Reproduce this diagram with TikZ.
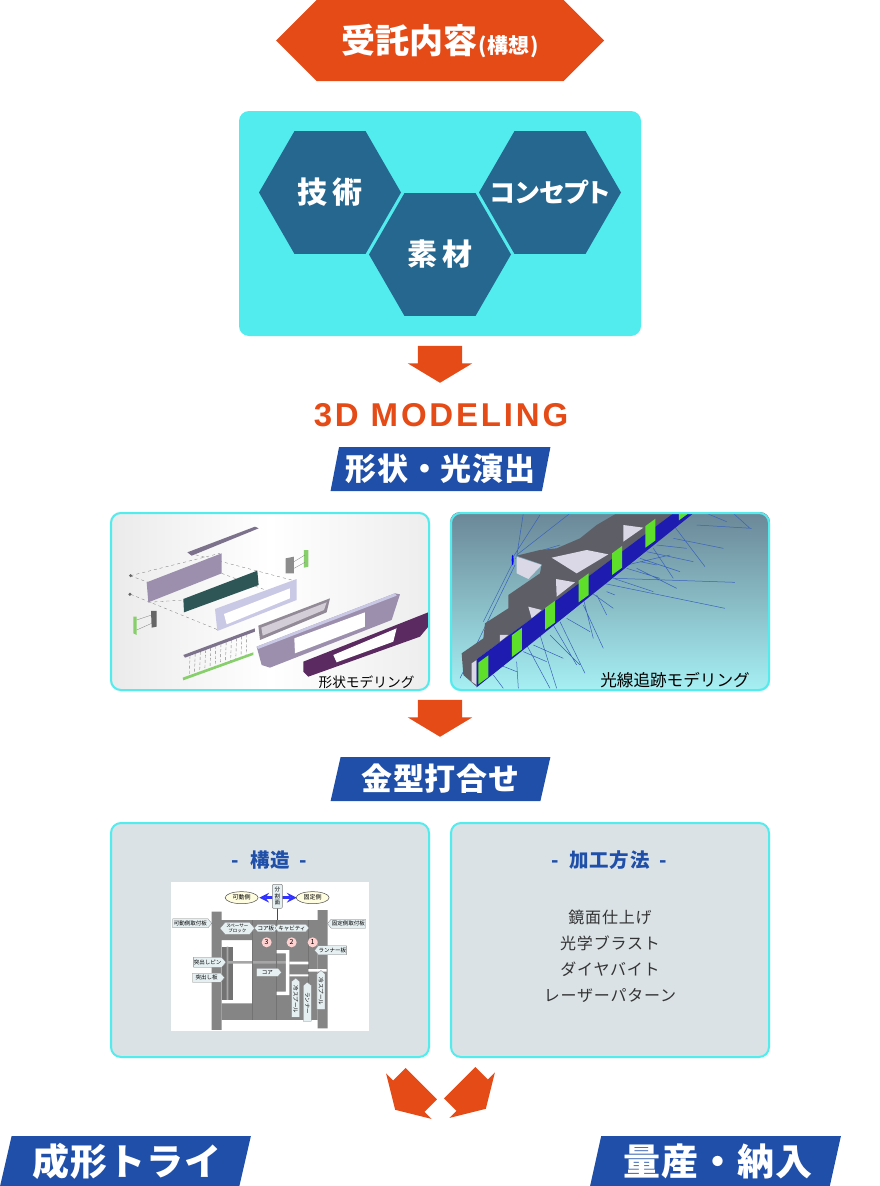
\documentclass[tikz,border=0pt]{standalone}
\usepackage{fontspec}
\usepackage{xcolor}
\setmainfont{Noto Sans CJK JP}
\newfontfamily\latinfont[LetterSpace=8.5]{Liberation Sans}
\usetikzlibrary{positioning,shapes.geometric,shapes.symbols,shapes.arrows}
\definecolor{orangefill}{HTML}{E54B17}
\definecolor{bluefill}{HTML}{1F4FA8}
\definecolor{hexfill}{HTML}{25678F}
\definecolor{cyanfill}{HTML}{52ECEE}
\definecolor{greyfill}{HTML}{DAE2E6}
\definecolor{plate}{HTML}{858585}
\definecolor{tagfill}{HTML}{E6F0F3}
\definecolor{rayblue}{HTML}{3A62BC}
\definecolor{partgrey}{HTML}{9C8FAE}
\definecolor{partdark}{HTML}{2F5656}
\definecolor{partpale}{HTML}{C9C9E6}
\definecolor{partlens}{HTML}{B6ACBC}
\definecolor{partplum}{HTML}{5A2A60}
\definecolor{partgreen}{HTML}{86CF6A}
\definecolor{bodygrey}{HTML}{5E5E66}
\definecolor{bodypale}{HTML}{DAD8E6}
\definecolor{stripblue}{HTML}{1E1BB0}
\definecolor{patchgreen}{HTML}{5EE02A}

\begin{document}
\begin{tikzpicture}[
    x=1pt, y=-1pt,
    hexnode/.style={regular polygon, regular polygon sides=6, minimum size=142pt, inner sep=0pt, fill=hexfill, text=white, font=\fontsize{30}{30}\selectfont\bfseries},
    banner/.style={trapezium, trapezium left angle=75, trapezium right angle=105, trapezium stretches=true, fill=bluefill, text=white, inner sep=0pt, minimum width=220pt, minimum height=44pt, font=\fontsize{31}{31}\selectfont\bfseries},
    bigbanner/.style={banner, minimum width=251pt, minimum height=50pt, font=\fontsize{37}{37}\selectfont\bfseries},
    downarrow/.style={single arrow, fill=orangefill, inner xsep=0pt, inner ysep=22pt, minimum height=37pt, minimum width=64pt, single arrow head extend=10pt, single arrow tip angle=118},
    framebox/.style={draw=cyanfill, line width=2pt, rounded corners=10pt, minimum width=318pt, outer sep=1pt},
    head/.style={text=bluefill, font=\fontsize{19.5}{20}\selectfont\bfseries\addfontfeature{LetterSpace=5}},
    caption/.style={text=black, inner sep=0pt},
    moldtag/.style={signal, signal to=east, signal pointer angle=100, draw=gray, line width=.3pt, fill=tagfill, inner sep=.3pt, minimum width=32pt, minimum height=9pt, font=\fontsize{5.5}{5.5}\selectfont},
    moldhex/.style={moldtag, signal to=east and west, minimum width=23pt, minimum height=7.5pt},
    moldoval/.style={ellipse, draw=black!70, line width=.5pt, fill=yellow!12, inner sep=0pt, minimum width=33pt, minimum height=12pt, font=\fontsize{6}{6}\selectfont},
    moldnum/.style={circle, fill=pink!70, inner sep=.5pt, minimum size=10pt, font=\fontsize{7}{7}\selectfont},
    moldtool/.style={moldtag, rotate=-90, signal to=west, minimum width=39pt, minimum height=8pt}
  ]
    \useasboundingbox (0,0) rectangle (880,1186);

    % top
    \node[signal, signal to=east and west, signal pointer angle=90, fill=orangefill, text=white, inner sep=0pt, minimum width=328pt, minimum height=81pt] (order) at (440,40.5)
      {\fontsize{34}{34}\selectfont\bfseries 受託内容\hspace{1pt}\fontsize{21}{21}\selectfont\addfontfeature{LetterSpace=2} (構想)};
    \node[fill=cyanfill, rounded corners=10pt, minimum width=402pt, minimum height=225pt] (idea) at (440,223.5) {};
    \node[hexnode] (tech) at (330,192.5) {\addfontfeature{LetterSpace=15}技術};
    \node[hexnode] (material) at (440,254.5) {\addfontfeature{LetterSpace=15}素材};
    \node[hexnode, label={[text=white, inner sep=0pt, font=\fontsize{26}{26}\selectfont\bfseries]center:\addfontfeature{RawFeature=+palt}コンセプト}] (concept) at (550,192.5) {};
    \node[downarrow, rotate=-90, anchor=tip] (arrowa) at (440,383) {};

    \node[text=orangefill, inner sep=0pt, font=\latinfont\fontsize{33}{33}\selectfont\bfseries] (modeling) at (441,415) {3D MODELING};
    \node[banner] (shapelight) at (440.5,469) {\addfontfeature{LetterSpace=3}形状・光演出};

    % exploded view
    \begin{scope}
      \clip[rounded corners=10pt] (110,512) rectangle (430,691);
      \shade[shading=axis, shading angle=70, left color=black!8, right color=black!7, middle color=white] (110,512) rectangle (430,691);
      \begin{scope}[shift={(100,505)}, x=.3333pt, y=-.3333pt]
        \draw[black!55, line width=.3pt, dashed] (92,212) -- (360,145) (92,268) -- (355,375) (90,212) -- (145,232) (270,145) -- (575,225) (365,205) -- (575,285) (145,292) -- (250,285);
        \fill[black!60] (92,212) circle (5) (90,268) circle (5);
        \fill[partgrey!80!black] (262,142) -- (465,65) -- (476,70) -- (275,152) -- cycle;
        \fill[partgrey] (140,232) -- (365,145) -- (365,205) -- (145,292) -- cycle;
        \fill[partdark] (250,282) -- (472,197) -- (476,240) -- (252,322) -- cycle;
        \fill[partpale] (345,312) -- (590,222) -- (590,285) -- (352,378) -- cycle;
        \fill[white] (372,327) -- (570,250) -- (570,280) -- (380,358) -- cycle;
        \fill[partlens!80!black] (475,362) -- (690,280) -- (680,322) -- (480,405) -- cycle;
        \fill[partlens!60!white] (484,368) -- (680,292) -- (672,315) -- (488,392) -- cycle;
        \fill[partgrey] (470,425) -- (885,265) -- (900,268) -- (875,345) -- (510,488) -- (485,480) -- cycle;
        \fill[white] (583,400) -- (795,322) -- (795,365) -- (585,445) -- cycle;
        \fill[partpale] (470,425) -- (885,265) -- (890,272) -- (474,432) -- cycle;
        \fill[partplum] (610,470) -- (985,322) -- (985,365) -- (960,395) -- (625,515) -- (610,500) -- cycle;
        \fill[white] (700,450) -- (890,370) -- (880,410) -- (710,472) -- cycle;
        \foreach \i in {0,...,11}
          \draw[black!50, line width=.4pt, densely dashed] (270+\i*15.5,452-\i*5.8) -- (268+\i*15.5,515-\i*5.8);
        \fill[partgrey!80!black] (250,450) -- (465,370) -- (465,380) -- (255,458) -- cycle;
        \fill[partgreen] (248,518) -- (460,442) -- (460,450) -- (250,526) -- cycle;
        \fill[partgreen] (100,335) -- (110,335) -- (110,390) -- (100,385) -- cycle;
        \fill[black!60] (153,318) -- (170,318) -- (170,365) -- (155,368) -- cycle;
        \fill[black!45] (557,160) -- (582,155) -- (582,205) -- (557,205) -- cycle;
        \fill[partgreen] (612,135) -- (625,135) -- (625,185) -- (612,188) -- cycle;
        \draw[black!50, line width=.3pt] (110,345) -- (155,330) (110,375) -- (155,355) (582,170) -- (615,150) (582,190) -- (615,172);
      \end{scope}
    \end{scope}
    \node[caption, font=\fontsize{13.7}{14}\selectfont] (shapecap) at (366.5,682) {形状モデリング};
    \node[framebox, minimum height=177pt] (shapebox) at (270,601.5) {};

    % ray tracing
    \begin{scope}
      \clip[rounded corners=10pt] (450,512) rectangle (770,691);
      \shade[top color={rgb,255:red,107;green,135;blue,151}, bottom color={rgb,255:red,166;green,240;blue,243}] (450,512) rectangle (770,691);
      \begin{scope}[shift={(440,505)}, x=.3333pt, y=-.3333pt]
        \draw[rayblue, line width=.5pt]
          (525,220) -- (885,232) (490,235) -- (855,310) (700,60) -- (795,185) (770,60) -- (935,70) (590,190) -- (710,250)
          (360,350) -- (435,505) (300,390) -- (350,550) (230,470) -- (235,550) (620,140) -- (760,170) (560,180) -- (690,150)
          (500,260) -- (525,270) (430,300) -- (490,430) (380,340) -- (450,380) (330,390) -- (420,480) (280,420) -- (370,460)
          (180,480) -- (230,500) (160,510) -- (190,550) (700,100) -- (850,130) (640,130) -- (700,220) (450,260) -- (520,310)
          (220,155) -- (300,30) (230,150) -- (390,25) (220,170) -- (130,350) (225,180) -- (60,520) (225,160) -- (360,120)
          (230,155) -- (250,25) (880,25) -- (930,70) (800,25) -- (860,50) (600,170) -- (650,180) (430,280) -- (460,400)
          (340,360) -- (410,480) (260,420) -- (330,550) (250,440) -- (320,470) (520,220) -- (640,260) (560,190) -- (660,220)
          (650,120) -- (740,130) (600,160) -- (720,200) (470,270) -- (500,330);
        \fill[bodygrey] (65,445) -- (130,400) -- (135,355) -- (205,310) -- (205,270) -- (300,205) -- (305,178) -- (230,152) -- (300,135) -- (350,130) -- (420,100) -- (470,60) -- (530,25) -- (700,25) -- (110,463) -- (110,545) -- (70,510) -- cycle;
        \fill[bodypale] (230,155) -- (305,180) -- (265,222) -- (230,205) -- cycle;
        \fill[bodypale] (335,158) -- (440,135) -- (505,148) -- (410,205) -- cycle;
        \fill[bodypale] (348,222) -- (405,232) -- (350,275) -- cycle;
        \fill[bodypale] (265,305) -- (305,315) -- (275,340) -- cycle;
        \fill[bodypale] (180,390) -- (205,390) -- (180,410) -- cycle;
        \fill[bodypale] (550,60) -- (610,68) -- (550,110) -- cycle;
        \fill[bodypale] (95,475) -- (110,465) -- (110,540) -- (95,530) -- cycle;
        \fill[stripblue] (110,463) -- (700,25) -- (760,25) -- (110,547) -- cycle;
        \foreach \i in {0,...,6}
          \fill[patchgreen] ({115+\i*100.3},{473-\i*82}) -- ({145+\i*100.3},{451-\i*82}) -- ({145+\i*100.3},{516-\i*82}) -- ({115+\i*100.3},{538-\i*82}) -- cycle;
        \fill[blue] (218,165) ellipse (3 and 16);
      \end{scope}
    \end{scope}
    \node[caption, font=\fontsize{16.6}{17}\selectfont] (raycap) at (675,680) {光線追跡モデリング};
    \node[framebox, minimum height=177pt, right=20pt of shapebox] (raybox) {};
    \node[downarrow, rotate=-90, anchor=tip] (arrowb) at (440,737) {};

    \node[banner] (mold) at (440.5,779) {\addfontfeature{LetterSpace=3}金型打合せ};
    \node[framebox, fill=greyfill, minimum height=234pt] (structure) at (270,940) {};
    \node[framebox, fill=greyfill, minimum height=234pt, right=20pt of structure] (method) {};
    \node[head] (structurehead) at (269.5,860.5) {-\hspace{11pt}構造\hspace{10pt}-};
    \node[head] (methodhead) at (609.5,860.5) {-\hspace{10pt}加工方法\hspace{10pt}-};
    \node[text=black!80, align=center, font=\fontsize{16}{26}\selectfont\addfontfeature{LetterSpace=5}] (methodlist) at (610,956.5) {鏡面仕上げ\\光学ブラスト\\ダイヤバイト\\レーザーパターン};

    % mold
    \fill[white] (171,882) rectangle (369,1031);
    \begin{scope}[shift={(160,875)}, x=.3333pt, y=-.3333pt]
      \fill[plate] (155,110) rectangle (185,465) (473,105) rectangle (503,460) (185,135) rectangle (473,195);
      \fill[plate] (278,135) rectangle (445,435) (445,135) rectangle (473,435) (185,385) rectangle (278,435);
      \fill[black!55] (185,215) rectangle (220,375);
      \fill[black!35] (200,215) rectangle (205,375) (205,258) rectangle (385,266);
      \draw[black!55, line width=.4pt] (278,135) -- (278,435) (350,135) -- (350,435) (445,135) -- (445,435);
      \fill[white] (350,225) rectangle (388,235) (378,225) rectangle (388,360) (350,350) rectangle (388,360);
      \fill[white] (388,260) rectangle (445,268) (445,282) rectangle (500,290) (388,298) rectangle (445,304);
      \draw[blue!80, line width=1pt] (352,100) -- (352,135);
      \draw[blue!80, line width=3.2pt, <->, >=stealth] (298,68) -- (410,68);
      \node[moldoval] (movable) at (245,68) {可動側};
      \node[moldoval] (fixed) at (458,68) {固定側};
      \node[draw=gray, fill=tagfill, rounded corners=1pt, inner sep=.8pt, minimum width=10pt, minimum height=24pt, align=center, font=\fontsize{5.5}{6.5}\selectfont] (parting) at (352,64) {分\\割\\面};
      \node[moldtag, minimum width=39pt] (tagl) at (91,145) {可動側取付板};
      \node[moldtag, signal to=west, minimum width=38pt] (tagr) at (565,146) {固定側取付板};
      \node[moldhex, minimum width=30pt, minimum height=12pt] (spacer) at (232,160) {\parbox{24pt}{\centering\fontsize{4.5}{5}\selectfont スペーサー\\ブロック}};
      \node[moldhex] (coreplate) at (318,159) {コア板};
      \node[moldhex, minimum width=24pt] (cavity) at (396,159) {キャビティ};
      \node[moldtag, signal to=west, minimum width=26pt] (runner) at (517,226) {ランナー板};
      \node[moldtag, minimum height=10pt] (pin) at (143,262) {突出しピン};
      \node[moldtag] (ejector) at (140,308) {突出し板};
      \node[moldtag, minimum width=25pt, minimum height=8pt] (core) at (322,292) {コア};
      \node[moldnum] (numc) at (320,202) {3};
      \node[moldnum] (numb) at (395,202) {2};
      \node[moldnum] (numa) at (458,202) {1};
      \node[moldtool] (toola) at (407,373) {冷スプール};
      \node[moldtool] (toolb) at (442,385) {ランナー};
      \node[moldtool] (toolc) at (483,350) {冷スプール};
    \end{scope}

    % last step
    \node[downarrow, rotate=-135, anchor=tip] (arrowc) at (395,1110) {};
    \node[downarrow, rotate=-45, anchor=tip] (arrowd) at (486,1109) {};
    \node[bigbanner] (trial) at (125.5,1161) {\hspace*{3pt}\addfontfeature{LetterSpace=3}成形トライ};
    \node[bigbanner] (mass) at (715.5,1161) {\hspace*{5pt}\addfontfeature{LetterSpace=3}量産・納入};
  \end{tikzpicture}
\end{document}
